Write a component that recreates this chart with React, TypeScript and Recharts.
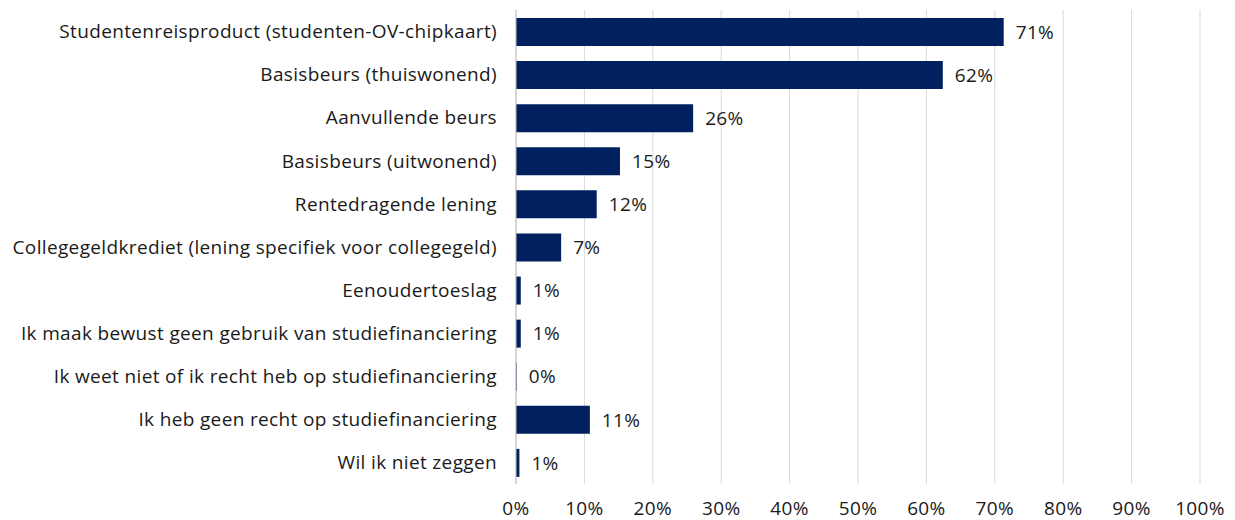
import { BarChart, Bar, XAxis, YAxis, CartesianGrid, LabelList } from "recharts";

// ── data ──────────────────────────────────────────────────────────────────

const CATEGORIES = [
  "Studentenreisproduct (studenten-OV-chipkaart)",
  "Basisbeurs (thuiswonend)",
  "Aanvullende beurs",
  "Basisbeurs (uitwonend)",
  "Rentedragende lening",
  "Collegegeldkrediet (lening specifiek voor collegegeld)",
  "Eenoudertoeslag",
  "Ik maak bewust geen gebruik van studiefinanciering",
  "Ik weet niet of ik recht heb op studiefinanciering",
  "Ik heb geen recht op studiefinanciering",
  "Wil ik niet zeggen",
];

const SHARES = [71.3, 62.4, 25.9, 15.2, 11.8, 6.6, 0.7, 0.7, 0.1, 10.8, 0.5];

const X_TICKS = [0, 10, 20, 30, 40, 50, 60, 70, 80, 90, 100];

const rows = CATEGORIES.map((name, i) => ({ name, share: SHARES[i] }));

// ── theme ─────────────────────────────────────────────────────────────────

const FONT = "'Open Sans', sans-serif";
const BAR_COLOR = "#002060";
const TEXT_COLOR = "#1a1a1a";
const GRID_COLOR = "#d9d9d9";
const TEXT_STYLE = { fill: TEXT_COLOR, fontSize: 19, fontFamily: FONT, letterSpacing: 0.35 };

export default function App() {
  return (
    <div style={{ position: "absolute", left: 0, top: 0, background: "#fff" }}>
      <BarChart
        width={1235}
        height={520}
        layout="vertical"
        data={rows}
        margin={{ top: 10, right: 35, left: 0, bottom: 6 }}
        style={{ fontFamily: FONT }}
      >
        <CartesianGrid horizontal={false} stroke={GRID_COLOR} strokeWidth={1} />
        <XAxis
          type="number"
          domain={[0, 100]}
          ticks={X_TICKS}
          tickFormatter={(v: number) => `${v}%`}
          axisLine={false}
          tickLine={false}
          tickMargin={12}
          height={30}
          tick={TEXT_STYLE}
        />
        <YAxis
          type="category"
          dataKey="name"
          width={516}
          axisLine={{ stroke: "#bfbfbf" }}
          tickLine={false}
          tickMargin={13}
          interval={0}
          tick={TEXT_STYLE}
        />
        <Bar dataKey="share" fill={BAR_COLOR} barSize={28} isAnimationActive={false}>
          <LabelList
            dataKey="share"
            position="right"
            offset={12}
            formatter={(v: any) => `${Math.round(Number(v))}%`}
            style={TEXT_STYLE}
          />
        </Bar>
      </BarChart>
    </div>
  );
}
